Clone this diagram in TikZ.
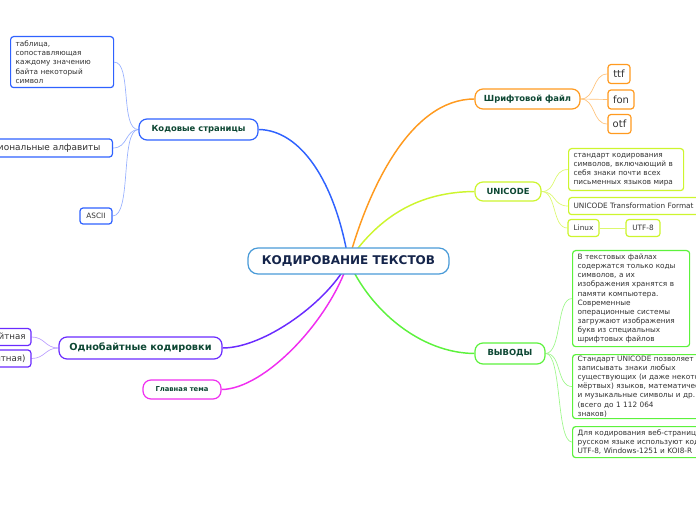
\documentclass[tikz,border=0pt]{standalone}
\usepackage{fontspec}
\setmainfont{DejaVu Sans}
\usetikzlibrary{backgrounds}

\definecolor{mitteblau}{HTML}{4A9BD8}
\definecolor{mittetext}{HTML}{14244A}
\definecolor{themagruen}{HTML}{0D4733}
\definecolor{blattgrau}{HTML}{333333}
\definecolor{astblau}{HTML}{2F62FF}
\definecolor{astorange}{HTML}{FF9A1F}
\definecolor{astgelb}{HTML}{CDF52E}
\definecolor{astgruen}{HTML}{5CF23C}
\definecolor{astlila}{HTML}{6A2BFF}
\definecolor{astrosa}{HTML}{F02EF0}

\newcommand{\klein}{\fontsize{5.5}{6.85}\selectfont}

\tikzset{
  mitte/.style={draw=mitteblau, line width=0.9pt, rounded corners=7.5pt, fill=white, text=mittetext, font=\bfseries\fontsize{9}{11}\selectfont, inner sep=0pt},
  thema/.style={draw, line width=0.9pt, rounded corners=6pt, fill=white, text=themagruen, font=\bfseries\fontsize{6.3}{8}\selectfont, inner sep=0pt},
  blatt/.style={draw, line width=0.9pt, rounded corners=2.25pt, fill=white, text=blattgrau, font=\klein, inner sep=0pt},
  textblatt/.style={blatt, anchor=north west, align=left, inner xsep=3.75pt},
  ast/.style={line width=1.1pt},
  zweig/.style={line width=0.5pt}
}

\begin{document}
\begin{tikzpicture}[x=0.75pt, y=-0.75pt]
\useasboundingbox (0,0) rectangle (696,520);
\clip (0,0) rectangle (696,520);

%HAUPTTHEMA (Mitte)
\node[mitte, minimum width=150.75pt, minimum height=19.5pt] (kodierung) at (348.5,261) {КОДИРОВАНИЕ ТЕКСТОВ};

%ZWEIG NR. 1 (oben links)
\node[thema, draw=astblau, minimum width=89.25pt, minimum height=15.75pt] (kodseiten) at (198.5,129.5) {Кодовые страницы};
\node[textblatt, draw=astblau, text width=69.75pt, minimum height=38.25pt] (tabelle) at (10,36) {таблица,\\сопоставляющая\\каждому значению\\байта некоторый\\символ};
\node[blatt, draw=astblau, anchor=east, inner xsep=9pt, minimum height=13.5pt, font=\fontsize{6.7}{8}\selectfont] (alphabete) at (113,148) {Национальные алфавиты};
\node[blatt, draw=astblau, minimum width=24pt, minimum height=12pt] (ascii) at (96,216) {ASCII};

%ZWEIG NR. 2 (unten links)
\node[thema, draw=astlila, minimum width=122.25pt, minimum height=16.5pt, font=\bfseries\fontsize{7.3}{9}\selectfont] (einbyte) at (140.5,348) {Однобайтные кодировки};
\node[blatt, draw=astlila, anchor=east, inner xsep=4pt, minimum height=12.75pt, font=\fontsize{6.5}{8}\selectfont] (einbyteA) at (31.5,337) {однобайтная};
\node[blatt, draw=astlila, anchor=east, inner xsep=4pt, minimum height=12.75pt, font=\fontsize{6.5}{8}\selectfont] (einbyteB) at (31.5,358.5) {(восьмибитная)};

%ZWEIG NR. 3 (unten links)
\node[thema, draw=astrosa, minimum width=58.5pt, minimum height=14.25pt, font=\bfseries\fontsize{5.1}{6}\selectfont] (hauptthema) at (182,389.5) {Главная тема};

%ZWEIG NR. 4 (oben rechts)
\node[thema, draw=astorange, minimum width=78.75pt, minimum height=15pt] (schrift) at (527.5,99) {Шрифтовой файл};
\node[blatt, draw=astorange, minimum width=16.5pt, minimum height=14.25pt, font=\fontsize{7.5}{9}\selectfont] (ttf) at (619,74) {ttf};
\node[blatt, draw=astorange, minimum width=19.5pt, minimum height=14.25pt, font=\fontsize{7.5}{9}\selectfont] (fon) at (621,99.5) {fon};
\node[blatt, draw=astorange, minimum width=17.25pt, minimum height=14.25pt, font=\fontsize{7.5}{9}\selectfont] (otf) at (619.5,124) {otf};

%ZWEIG NR. 5 (rechts)
\node[thema, draw=astgelb, minimum width=49.5pt, minimum height=14.25pt] (unicode) at (508,191.5) {UNICODE};
\node[textblatt, draw=astgelb, text width=78.75pt, minimum height=31.5pt] (standard) at (568,148) {стандарт кодирования\\символов, включающий в\\себя знаки почти всех\\письменных языков мира};
\node[textblatt, draw=astgelb, text width=142.5pt, minimum height=12.75pt] (format) at (568,197) {UNICODE Transformation Format};
\node[blatt, draw=astgelb, minimum width=23.25pt, minimum height=12.75pt] (linux) at (583.5,228) {Linux};
\node[blatt, draw=astgelb, minimum width=25.5pt, minimum height=12.75pt] (utfacht) at (643,228) {UTF-8};

%ZWEIG NR. 6 (unten rechts)
\node[thema, draw=astgruen, minimum width=52.5pt, minimum height=15.75pt] (fazit) at (510,353.5) {ВЫВОДЫ};
\node[textblatt, draw=astgruen, text width=80.25pt, minimum height=72pt] (fazitA) at (572,250) {В текстовых файлах\\содержатся только коды\\символов, а их\\изображения хранятся в\\памяти компьютера.\\Современные\\операционные системы\\загружают изображения\\букв из специальных\\шрифтовых файлов};
\node[textblatt, draw=astgruen, text width=142.5pt, minimum height=48pt] (fazitB) at (572,354) {Стандарт UNICODE позволяет\\записывать знаки любых\\существующих (и даже некоторых\\мёртвых) языков, математические\\и музыкальные символы и др.\\(всего до 1 112 064\\знаков)};
\node[textblatt, draw=astgruen, text width=142.5pt, minimum height=23.25pt] (fazitC) at (572,426) {Для кодирования веб-страниц на\\русском языке используют кодировки\\UTF-8, Windows-1251 и KOI8-R};

%VERBINDUNGEN
\begin{scope}[on background layer]
\draw[ast, astblau] (kodierung.center) .. controls (335,180) and (300,130) .. (kodseiten.east);
\draw[ast, astorange] (kodierung.center) .. controls (368,190) and (410,99) .. (schrift.west);
\draw[ast, astgelb] (kodierung.center) .. controls (380,215) and (420,192) .. (unicode.west);
\draw[ast, astgruen] (kodierung.center) .. controls (370,310) and (420,353) .. (fazit.west);
\draw[ast, astlila] (kodierung.center) .. controls (330,300) and (265,348) .. (einbyte.east);
\draw[ast, astrosa] (kodierung.center) .. controls (330,320) and (265,389) .. (hauptthema.east);

\draw[zweig, astblau!50] (kodseiten.west) .. controls (120,130) and (132,62) .. (tabelle.east);
\draw[zweig, astblau!50] (kodseiten.west) .. controls (125,130) and (128,148) .. (alphabete.east);
\draw[zweig, astblau!50] (kodseiten.west) .. controls (120,130) and (132,216) .. (ascii.east);

\draw[zweig, astlila!45] (einbyte.west) .. controls (45,348) and (45,337) .. (einbyteA.east);
\draw[zweig, astlila!45] (einbyte.west) .. controls (45,348) and (45,358.5) .. (einbyteB.east);

\draw[zweig, astorange!60] (schrift.east) .. controls (596,99) and (592,74) .. (ttf.west);
\draw[zweig, astorange!60] (schrift.east) -- (fon.west);
\draw[zweig, astorange!60] (schrift.east) .. controls (596,99) and (592,124) .. (otf.west);

\draw[zweig, astgelb!70] (unicode.east) .. controls (557,192) and (552,169) .. (standard.west);
\draw[zweig, astgelb!70] (unicode.east) .. controls (557,192) and (552,205.5) .. (format.west);
\draw[zweig, astgelb!70] (unicode.east) .. controls (557,192) and (552,228) .. (linux.west);
\draw[zweig, astgelb!70] (linux.east) -- (utfacht.west);

\draw[zweig, astgruen!60] (fazit.east) .. controls (562,353) and (556,298) .. (fazitA.west);
\draw[zweig, astgruen!60] (fazit.east) .. controls (562,353) and (556,386) .. (fazitB.west);
\draw[zweig, astgruen!60] (fazit.east) .. controls (562,353) and (556,441.5) .. (fazitC.west);
\end{scope}

\end{tikzpicture}
\end{document}
